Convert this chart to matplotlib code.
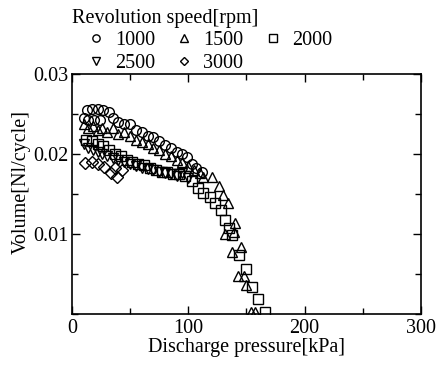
import matplotlib
matplotlib.use("Agg")
import matplotlib.pyplot as plt
from matplotlib.ticker import MultipleLocator, FixedLocator

plt.rcParams["font.family"] = ["Liberation Serif", "DejaVu Serif"]
plt.rcParams["font.size"] = 14.5

# 1000 rpm
p_1000 = [10, 13, 17, 22, 27, 32, 14, 19, 24, 35, 40, 45, 50, 55, 60, 65, 70,
          75, 80, 85, 90, 95, 99, 103, 107, 112]
v_1000 = [0.0245, 0.0255, 0.0256, 0.0256, 0.0255, 0.0252, 0.0243, 0.0243, 0.0242,
          0.0245, 0.0240, 0.0238, 0.0237, 0.0230, 0.0228, 0.0222, 0.0221,
          0.0216, 0.0211, 0.0207, 0.0203, 0.0200, 0.0196, 0.0188, 0.0183, 0.0178]

# 1500 rpm
p_1500 = [10, 14, 18, 22, 26, 30, 35, 40, 45, 50, 55, 60, 65, 70, 75, 80, 85,
          90, 95, 100, 105, 110, 113, 120, 126, 130, 134, 140, 132, 139, 145,
          138, 143, 148, 150, 154, 157]
v_1500 = [0.0238, 0.0232, 0.0235, 0.0230, 0.0232, 0.0228, 0.0232, 0.0225, 0.0228,
          0.0222, 0.0218, 0.0215, 0.0212, 0.0208, 0.0205, 0.0200, 0.0198,
          0.0193, 0.0190, 0.0185, 0.0180, 0.0176, 0.0171, 0.0171, 0.0160,
          0.0149, 0.0139, 0.0114, 0.0100, 0.0103, 0.0084, 0.0078, 0.0048,
          0.0048, 0.0036, 0.0002, 0.0002]

# 2000 rpm
p_2000 = [12, 17, 22, 27, 32, 37, 42, 47, 52, 57, 62, 67, 72, 77, 82, 87, 92,
          97, 103, 108, 113, 119, 123, 128, 132, 135, 138, 144, 150, 155, 160, 166]
v_2000 = [0.0218, 0.0216, 0.0212, 0.0210, 0.0205, 0.0200, 0.0198, 0.0193, 0.0190,
          0.0188, 0.0186, 0.0183, 0.0180, 0.0178, 0.0177, 0.0175, 0.0175,
          0.0172, 0.0166, 0.0158, 0.0151, 0.0146, 0.0139, 0.0130, 0.0118,
          0.0107, 0.0099, 0.0074, 0.0056, 0.0034, 0.0019, 0.0002]

# 2500 rpm
p_2500 = [10, 14, 18, 22, 26, 30, 35, 40, 45, 50, 55, 60, 65, 70, 75, 80, 85,
          90, 95, 100]
v_2500 = [0.0212, 0.0207, 0.0205, 0.0203, 0.0200, 0.0198, 0.0195, 0.0192, 0.0190,
          0.0187, 0.0185, 0.0183, 0.0181, 0.0180, 0.0178, 0.0176, 0.0175,
          0.0172, 0.0176, 0.0170]

# 3000 rpm
p_3000 = [11, 17, 22, 28, 34, 37, 43, 39]
v_3000 = [0.0189, 0.0190, 0.0188, 0.0184, 0.0176, 0.0182, 0.0180, 0.0171]

fig = plt.figure(figsize=(4.44, 3.65), dpi=100)
ax = fig.add_axes([0.162, 0.140, 0.786, 0.657])

kw = dict(linestyle="none", markerfacecolor="none", markeredgecolor="black",
          markeredgewidth=1.0, markersize=7)
h1, = ax.plot(p_1000, v_1000, marker="o", label="1000", **kw)
h2, = ax.plot(p_1500, v_1500, marker="^", label="1500", **kw)
h3, = ax.plot(p_2000, v_2000, marker="s", label="2000", **kw)
h4, = ax.plot(p_2500, v_2500, marker="v", label="2500", **kw)
h5, = ax.plot(p_3000, v_3000, marker="D", label="3000", **dict(kw, markersize=6))

ax.set_xlim(0, 300)
ax.set_ylim(0, 0.03)
ax.xaxis.set_major_locator(MultipleLocator(100))
ax.xaxis.set_minor_locator(MultipleLocator(50))
ax.yaxis.set_major_locator(FixedLocator([0.01, 0.02, 0.03]))
ax.yaxis.set_minor_locator(MultipleLocator(0.005))
ax.tick_params(which="both", direction="in", top=True, right=True, width=1.0)
ax.tick_params(which="major", length=6)
ax.tick_params(which="minor", length=4)
ax.tick_params(axis="y", pad=2.5)
for s in ax.spines.values():
    s.set_linewidth(1.2)

ax.set_xlabel("Discharge pressure[kPa]", labelpad=0)
ax.set_ylabel("Volume[Nl/cycle]")
ax.yaxis.set_label_coords(-0.118, 0.55)

# legend title and entries
fig.text(72 / 444, 1 - 9 / 365, "Revolution speed[rpm]", ha="left", va="top")
leg = fig.legend([h1, h4, h2, h5, h3], ["1000", "2500", "1500", "3000", "2000"],
                 ncol=3, loc="upper left", bbox_to_anchor=(0.193, 0.915),
                 frameon=False, handlelength=1.0, handletextpad=0.45,
                 columnspacing=0.95, labelspacing=0.2, borderpad=0.0,
                 borderaxespad=0.0, markerscale=0.75)

fig.savefig("out.png", dpi=100)
